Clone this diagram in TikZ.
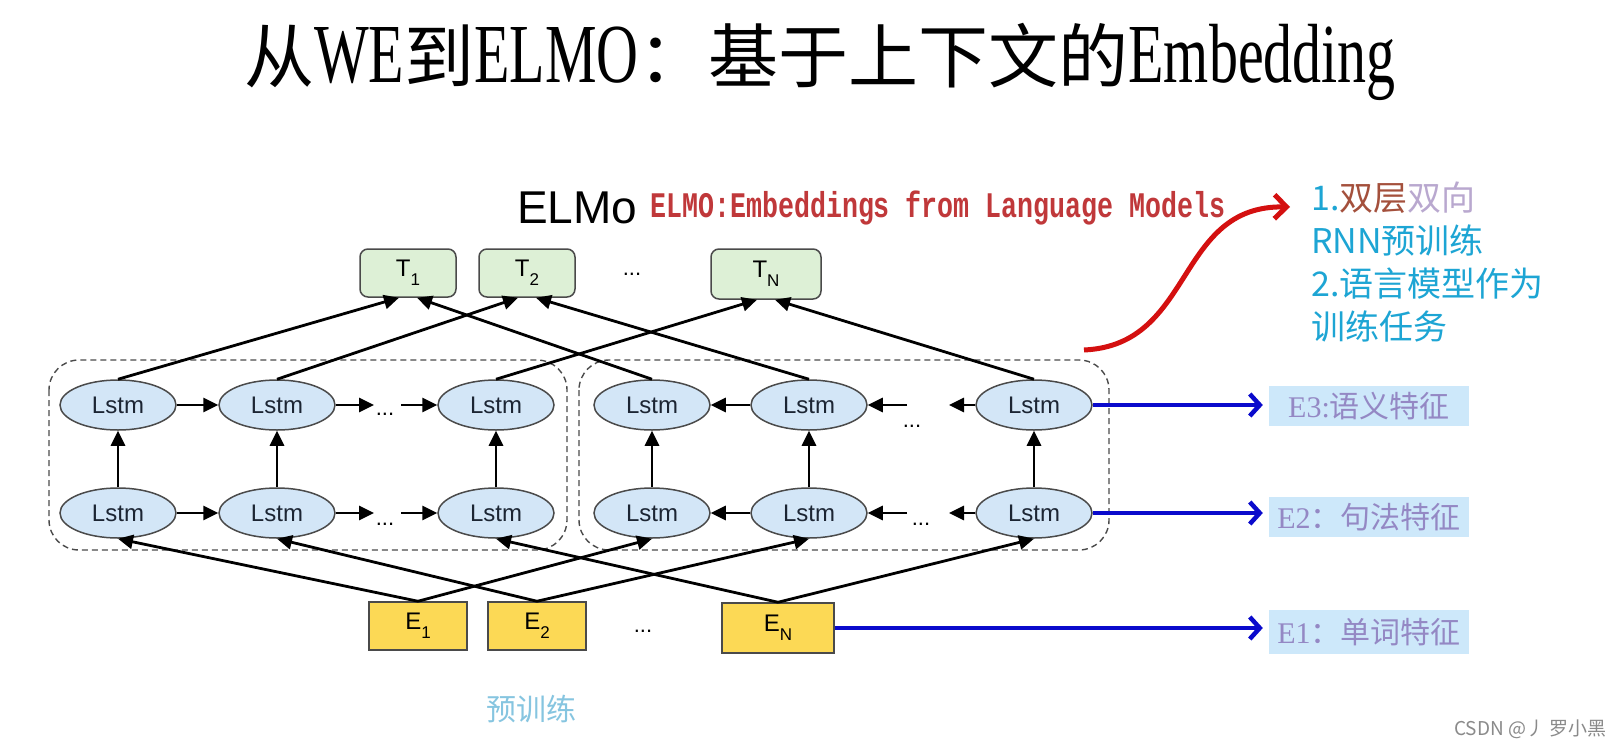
\documentclass[tikz,border=0pt]{standalone}
\usepackage{fontspec}
\usepackage{graphicx}
\usetikzlibrary{arrows.meta,shapes.geometric}
\setmainfont{Liberation Sans}
\newfontfamily\cjk{Noto Sans CJK SC}
\newfontfamily\monof{Liberation Mono}
\newfontfamily\serff{Liberation Serif}
\newcommand\setfs[1]{\fontsize{#1}{#1}\selectfont}
\newcommand\lowsub[1]{\raisebox{-0.38em}{\setfs{17}#1}}
\definecolor{edgegray}{HTML}{4A4A4A}
\definecolor{lstmblue}{HTML}{D3E6F7}
\definecolor{lstmtext}{HTML}{1C2533}
\definecolor{tgreen}{HTML}{DDF0D6}
\definecolor{eyellow}{HTML}{FCD955}
\definecolor{arrowblue}{HTML}{0A0ACC}
\definecolor{labblue}{HTML}{CDE8FA}
\definecolor{labtext}{HTML}{9488C4}
\definecolor{subred}{HTML}{C0383A}
\definecolor{cyanT}{HTML}{1DA5D4}
\definecolor{brownT}{HTML}{A4503C}
\definecolor{lavT}{HTML}{B9A8CF}
\definecolor{pretrain}{HTML}{86C5E0}
\definecolor{wmgray}{HTML}{8A8A8A}
\definecolor{redarrow}{HTML}{D41010}
\tikzset{
  lstm/.style={ellipse, draw=edgegray, line width=1.5, fill=lstmblue, minimum width=116, minimum height=50, inner sep=0, font=\setfs{24}, text=lstmtext},
  tbox/.style={draw=edgegray, line width=1.5, rounded corners=8, fill=tgreen, minimum width=96, minimum height=48, inner sep=0, font=\setfs{24}},
  ebox/.style={draw=edgegray, line width=1.5, fill=eyellow, minimum width=98, minimum height=48, inner sep=0, font=\setfs{24}},
  arr/.style={-{Triangle[length=15,width=14]}, line width=2.8, black},
  dashbox/.style={draw=edgegray, dash pattern=on 6 off 4, line width=1.4, rounded corners=30},
  barr/.style={-{Straight Barb[length=10,width=22]}, line width=4.5, arrowblue},
  lab/.style={fill=labblue, minimum width=200, minimum height=40, inner sep=0, text=labtext, font=\setfs{30}\cjk},
  dots/.style={font=\setfs{22}, inner sep=0},
}
\begin{document}
\begin{tikzpicture}[x=1pt,y=-1pt]
\useasboundingbox (0,0) rectangle (1622,749);
\fill[white] (0,0) rectangle (1622,749);

% title
\node (title) at (820,62) {\setfs{70}\cjk 从\scalebox{0.69}[1]{\setfs{84}\serff WE}到\scalebox{0.69}[1]{\setfs{84}\serff ELMO}：基于上下文的\scalebox{0.69}[1]{\setfs{84}\serff Embedding}};

% ELMo heading
\node[anchor=base west, inner sep=0, font=\setfs{46}] (elmo) at (517,223) {ELMo};
\node[anchor=west, inner sep=0, text=subred] (sub) at (650,208) {\scalebox{0.74}[1]{\setfs{36}\monof\bfseries ELMO:Embeddings from Language Models}};

% dashed groups
\draw[dashbox] (49,360) rectangle (567,550);
\draw[dashbox] (579,360) rectangle (1109,550);

% T boxes
\node[tbox] (T1) at (408,273) {T\lowsub{1}};
\node[tbox] (T2) at (527,273) {T\lowsub{2}};
\node[dots] (tdots) at (632,274) {...};
\node[tbox, minimum width=110, minimum height=50] (TN) at (766,274) {T\lowsub{N}};

% Lstm cells
\node[lstm] (L1t) at (118,405) {Lstm};
\node[lstm] (L2t) at (277,405) {Lstm};
\node[lstm] (L3t) at (496,405) {Lstm};
\node[lstm] (L1b) at (118,513) {Lstm};
\node[lstm] (L2b) at (277,513) {Lstm};
\node[lstm] (L3b) at (496,513) {Lstm};
\node[lstm] (R1t) at (652,405) {Lstm};
\node[lstm] (R2t) at (809,405) {Lstm};
\node[lstm] (R3t) at (1034,405) {Lstm};
\node[lstm] (R1b) at (652,513) {Lstm};
\node[lstm] (R2b) at (809,513) {Lstm};
\node[lstm] (R3b) at (1034,513) {Lstm};

\node[dots] (d1) at (385,414) {...};
\node[dots] (d2) at (385,524) {...};
\node[dots] (d3) at (912,426) {...};
\node[dots] (d4) at (921,524) {...};

\coordinate (lta) at (374,405);
\coordinate (ltb) at (401,405);
\coordinate (lba) at (374,513);
\coordinate (lbb) at (401,513);
\coordinate (rta) at (907,405);
\coordinate (rtb) at (949,405);
\coordinate (rba) at (907,513);
\coordinate (rbb) at (949,513);

% horizontal arrows
\draw[arr] (L1t.east) -- (L2t.west);
\draw[arr] (L2t.east) -- (lta);
\draw[arr] (ltb) -- (L3t.west);
\draw[arr] (L1b.east) -- (L2b.west);
\draw[arr] (L2b.east) -- (lba);
\draw[arr] (lbb) -- (L3b.west);
\draw[arr] (R2t.west) -- (R1t.east);
\draw[arr] (rta) -- (R2t.east);
\draw[arr] (R3t.west) -- (rtb);
\draw[arr] (R2b.west) -- (R1b.east);
\draw[arr] (rba) -- (R2b.east);
\draw[arr] (R3b.west) -- (rbb);

% vertical arrows
\draw[arr] (L1b.north) -- (L1t.south);
\draw[arr] (L2b.north) -- (L2t.south);
\draw[arr] (L3b.north) -- (L3t.south);
\draw[arr] (R1b.north) -- (R1t.south);
\draw[arr] (R2b.north) -- (R2t.south);
\draw[arr] (R3b.north) -- (R3t.south);

% E boxes
\node[ebox] (E1) at (418,626) {E\lowsub{1}};
\node[ebox] (E2) at (537,626) {E\lowsub{2}};
\node[dots] (edots) at (643,631) {...};
\node[ebox, minimum width=112, minimum height=50] (EN) at (778,628) {E\lowsub{N}};

% to T boxes
\draw[arr] (L1t.north) -- ([xshift=-9]T1.south);
\draw[arr] (R1t.north) -- ([xshift=9]T1.south);
\draw[arr] (L2t.north) -- ([xshift=-9]T2.south);
\draw[arr] (R2t.north) -- ([xshift=9]T2.south);
\draw[arr] (L3t.north) -- ([xshift=-9]TN.south);
\draw[arr] (R3t.north) -- ([xshift=9]TN.south);

% from E boxes
\draw[arr] (E1.north) -- (L1b.south);
\draw[arr] (E1.north) -- (R1b.south);
\draw[arr] (E2.north) -- (L2b.south);
\draw[arr] (E2.north) -- (R2b.south);
\draw[arr] (EN.north) -- (L3b.south);
\draw[arr] (EN.north) -- (R3b.south);

% labels
\node[lab] (lab3) at (1369,406) {{\serff E3:}语义特征};
\node[lab] (lab2) at (1369,517) {{\serff E2}：句法特征};
\node[lab, minimum height=44] (lab1) at (1369,632) {{\serff E1}：单词特征};

\draw[barr, shorten >=6] (R3t.east) -- (R3t.east -| lab3.west);
\draw[barr, shorten >=6] (R3b.east) -- (R3b.east -| lab2.west);
\draw[barr, shorten >=6] (EN.east) -- (EN.east -| lab1.west);

% notes
\node[anchor=north west, align=left, inner sep=0, text=cyanT, font=\fontsize{34}{43}\selectfont\cjk] (notes) at (1311,182) {1.{\color{brownT}双层}{\color{lavT}双向}\\RNN预训练\\2.语言模型作为\\训练任务};

\coordinate (rs) at (1084,350);
\coordinate (re) at (1290,207);
\draw[-{Straight Barb[length=12,width=24]}, line width=5, redarrow] (rs) .. controls (1195,345) and (1175,205) .. (re);

% bottom texts
\node[text=pretrain, font=\setfs{30}\cjk] (pre) at (531,709) {预训练};
\node[anchor=east, text=wmgray, font=\setfs{19}\cjk] (wm) at (1610,729) {CSDN @丿 罗小黑};
\end{tikzpicture}
\end{document}
